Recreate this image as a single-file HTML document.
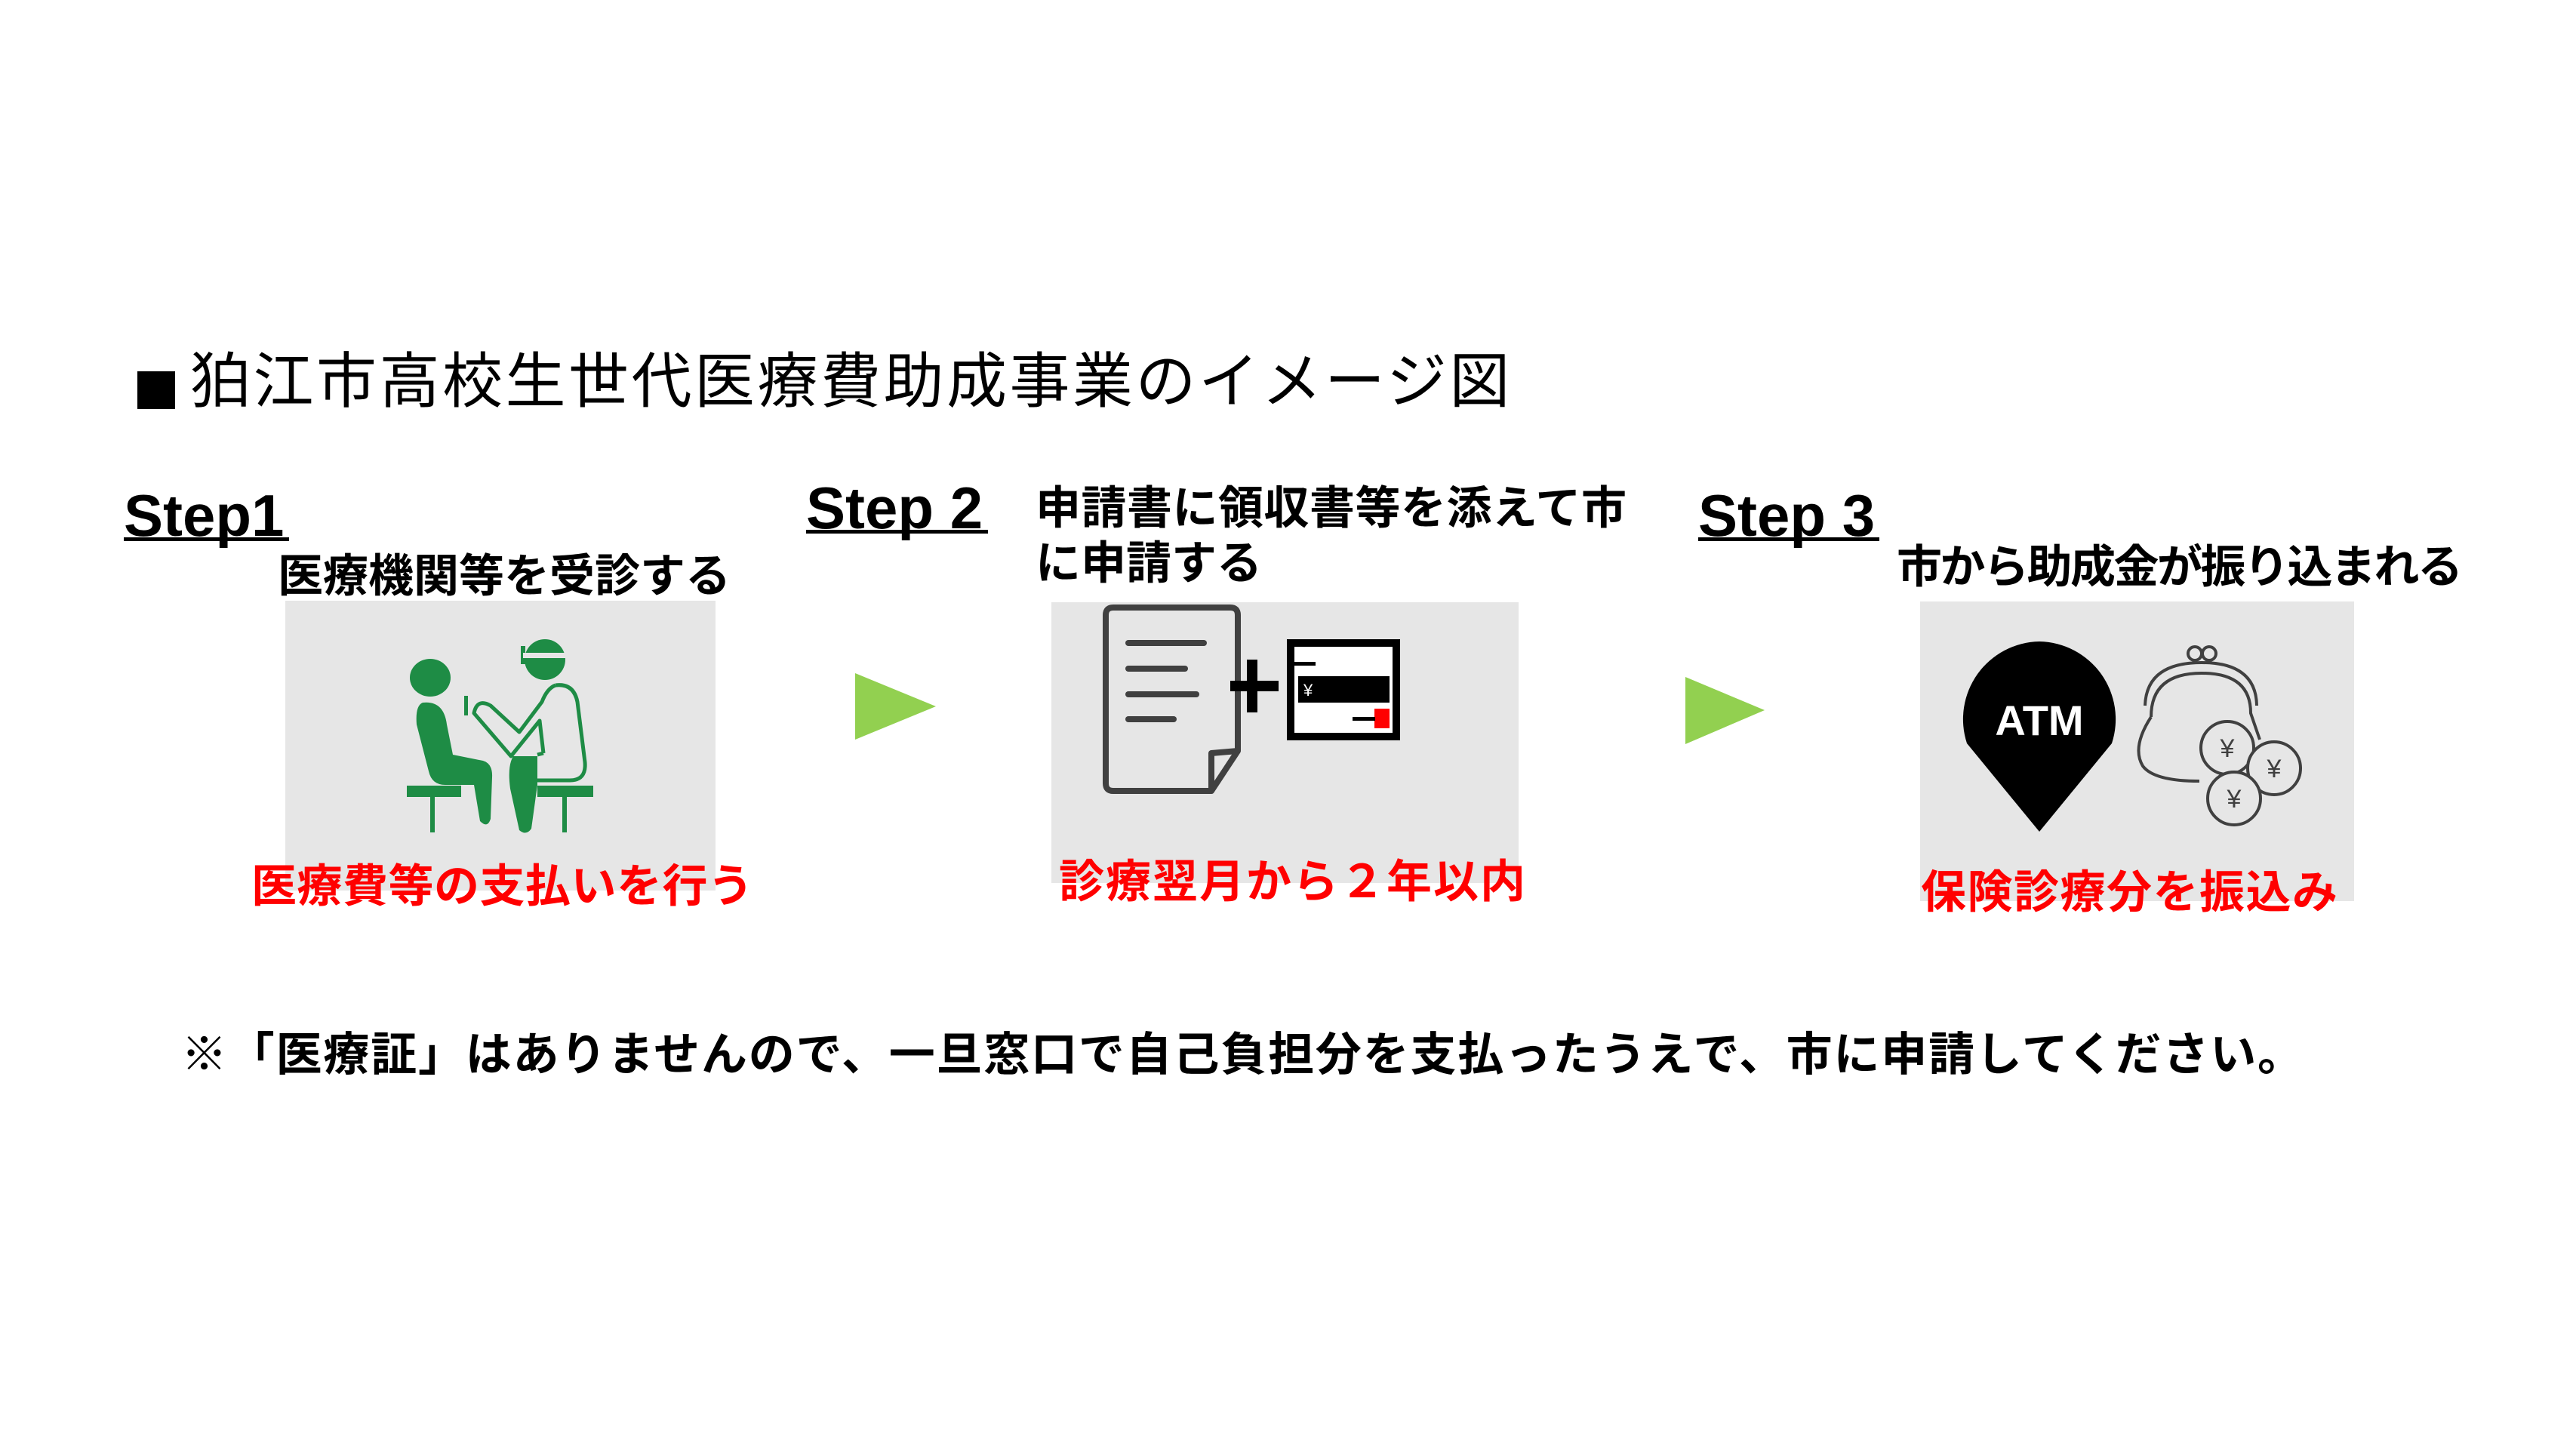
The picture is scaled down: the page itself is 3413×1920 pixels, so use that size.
<!DOCTYPE html>
<html><head><meta charset="utf-8"><style>
html,body{margin:0;padding:0;background:#fff}
body{width:3413px;height:1920px;position:relative;overflow:hidden;font-family:"Liberation Sans","Noto Sans CJK JP",sans-serif}
.t{position:absolute;white-space:nowrap;line-height:1;font-family:"Liberation Sans","Noto Sans CJK JP",sans-serif}
.b{font-weight:bold}
.box{position:absolute;background:#e6e6e6}
.step{position:absolute;font-weight:bold;font-size:78px;line-height:1;border-bottom:5px solid #000;padding-bottom:0}
.red{color:#ff0000;font-weight:bold}
</style></head><body>

<div style="position:absolute;left:182px;top:492px;width:50px;height:50px;background:#000"></div>
<div class="t" style="left:252px;top:466px;font-size:80px;letter-spacing:3.5px;">狛江市高校生世代医療費助成事業のイメージ図</div>

<div class="box" style="left:378px;top:796px;width:570px;height:384px"></div>
<div class="box" style="left:1393px;top:798px;width:619px;height:372px"></div>
<div class="box" style="left:2544px;top:797px;width:575px;height:397px"></div>

<div class="step" style="left:164px;top:644px;width:219px;height:68px">Step1</div>
<div class="step" style="left:1068px;top:634px;width:241px;height:68px">Step 2</div>
<div class="step" style="left:2250px;top:644px;width:240px;height:68px">Step 3</div>

<div class="t b" style="left:368px;top:734px;font-size:60px;letter-spacing:0px;">医療機関等を受診する</div>
<div class="t b" style="left:1372px;top:644px;font-size:60px;letter-spacing:0.5px;">申請書に領収書等を添えて市</div>
<div class="t b" style="left:1372px;top:717px;font-size:60px;">に申請する</div>
<div class="t b" style="left:2513px;top:722px;font-size:60px;letter-spacing:-2.5px;">市から助成金が振り込まれる</div>

<div class="t red" style="left:333px;top:1145px;font-size:60px;letter-spacing:0.5px;">医療費等の支払いを行う</div>
<div class="t red" style="left:1403px;top:1139px;font-size:60px;letter-spacing:2px;">診療翌月から２年以内</div>
<div class="t red" style="left:2545px;top:1153px;font-size:60px;letter-spacing:1.5px;">保険診療分を振込み</div>

<div class="t b" style="left:240px;top:1367px;font-size:61px;letter-spacing:1.8px;">※「医療証」はありませんので、一旦窓口で自己負担分を支払ったうえで、市に申請してください。</div>

<svg width="3413" height="1920" style="position:absolute;left:0;top:0" xmlns="http://www.w3.org/2000/svg">
 <!-- arrows -->
 <polygon points="1133,892 1240,936 1133,980" fill="#92d050"/>
 <polygon points="2233,897 2338,941 2233,986" fill="#92d050"/>

 <!-- doctor icon -->
 <g fill="#1e8c45" stroke="none">
  <ellipse cx="570" cy="898" rx="27" ry="25"/>
  <path d="M560,931 Q588,928 592,960 L600,1000 L640,1008 Q653,1012 652,1030 L650,1085 Q646,1098 636,1088 L628,1040 L590,1040 Q572,1040 568,1022 L552,960 Q550,935 560,931 Z"/>
  <rect x="539" y="1041" width="72" height="15"/>
  <rect x="570" y="1056" width="6" height="47"/>
  <rect x="712" y="1041" width="74" height="15"/>
  <rect x="745" y="1056" width="6" height="47"/>
  <path d="M680,1002 L712,1002 L712,1040 L704,1098 Q697,1108 688,1100 L676,1045 Q672,1015 680,1002 Z"/>
  <circle cx="722" cy="874" r="27"/>
  <rect x="690" y="856" width="6" height="24"/>
  <rect x="615" y="922" width="5" height="26"/>
 </g>
 <rect x="693" y="865" width="58" height="7" fill="#e6e6e6"/>
 <g fill="none" stroke="#1e8c45" stroke-width="5" stroke-linejoin="round">
  <path d="M736,908 Q760,905 765,930 L775,1010 Q777,1034 755,1034 L712,1034"/>
  <path d="M736,908 Q725,912 718,930 L688,970 L650,935 Q632,925 628,945 L677,1002 L715,955 L720,998"/>
  <path d="M720,998 L712,1000"/>
 </g>

 <!-- document icon -->
 <path d="M1475,805 L1630,805 Q1640,805 1640,815 L1640,995 L1605,1048 L1475,1048 Q1465,1048 1465,1038 L1465,815 Q1465,805 1475,805 Z" fill="none" stroke="#404040" stroke-width="8" stroke-linejoin="round"/>
 <path d="M1605,1048 L1605,998 L1640,995" fill="none" stroke="#404040" stroke-width="8" stroke-linejoin="round"/>
 <g stroke="#404040" stroke-width="8" stroke-linecap="round">
  <line x1="1495" y1="852" x2="1595" y2="852"/>
  <line x1="1495" y1="886" x2="1570" y2="886"/>
  <line x1="1495" y1="920" x2="1585" y2="920"/>
  <line x1="1495" y1="953" x2="1555" y2="953"/>
 </g>
 <rect x="1652" y="874" width="14" height="70" fill="#000"/>
 <rect x="1630" y="902" width="64" height="14" fill="#000"/>

 <!-- card icon -->
 <rect x="1710" y="852" width="140" height="124" fill="#fff" stroke="#000" stroke-width="10"/>
 <rect x="1713" y="877" width="30" height="5" fill="#000"/>
 <rect x="1720" y="896" width="121" height="35" fill="#000"/>
 <text x="1727" y="922" font-size="22" fill="#fff" font-family="Liberation Sans,sans-serif">¥</text>
 <rect x="1821" y="939" width="20" height="26" fill="#ff0000"/>
 <rect x="1792" y="950" width="30" height="5" fill="#000"/>

 <!-- ATM pin -->
 <path d="M2702,850 A103,103 0 0 1 2798,985 L2702,1102 L2606,985 A103,103 0 0 1 2702,850 Z" fill="#000"/>
 <text x="2702" y="974" text-anchor="middle" font-size="56" font-weight="bold" fill="#fff" font-family="Liberation Sans,sans-serif">ATM</text>

 <!-- purse & coins -->
 <g fill="none" stroke="#404040" stroke-width="4">
  <circle cx="2908" cy="866" r="9"/>
  <circle cx="2927" cy="866" r="9"/>
  <path d="M2842,935 Q2844,878 2917,878 Q2989,878 2990,935"/>
  <path d="M2850,950 Q2850,892 2917,892 Q2982,892 2982,945 L2994,980"/>
  <path d="M2850,950 Q2824,990 2839,1015 Q2854,1035 2914,1035"/>
  <circle cx="2951" cy="991" r="35" fill="#e6e6e6"/>
  <circle cx="3013" cy="1018" r="35" fill="#e6e6e6"/>
  <circle cx="2960" cy="1058" r="35" fill="#e6e6e6"/>
 </g>
 <g font-family="Liberation Sans,sans-serif" font-size="34" fill="#404040" text-anchor="middle">
  <text x="2951" y="1003">¥</text>
  <text x="3013" y="1030">¥</text>
  <text x="2960" y="1070">¥</text>
 </g>
</svg>
</body></html>
